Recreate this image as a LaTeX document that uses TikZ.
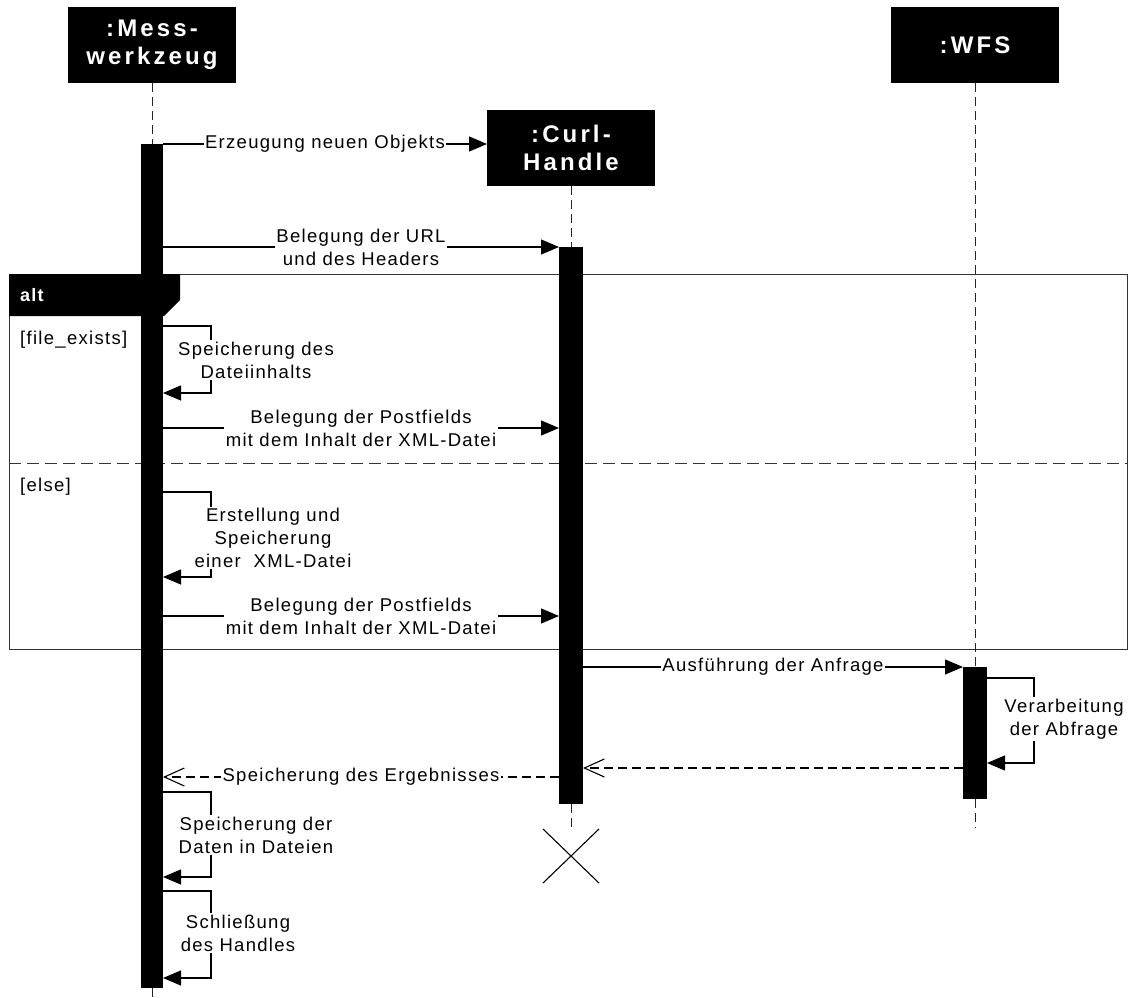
\documentclass[tikz,border=0pt]{standalone}
\usepackage{fontspec}
\setmainfont{Liberation Sans}
\newfontfamily\msgfont[LetterSpace=7]{Liberation Sans}
\newfontfamily\headfont[LetterSpace=13]{Liberation Sans}
\usetikzlibrary{arrows.meta,shapes.misc}

\begin{document}
\begin{tikzpicture}[x=1pt,y=-1pt,
  lifebox/.style={fill=black, text=white, minimum width=168pt, minimum height=76pt,
    inner sep=0pt, outer sep=0pt, align=center,
    font=\headfont\bfseries\fontsize{24}{28}\selectfont},
  actbar/.style={fill=black, anchor=north, inner sep=0pt, outer sep=0pt, minimum width=23pt},
  lifeline/.style={line width=1pt, dash pattern=on 9pt off 5pt, black!85},
  msg/.style={line width=1.1pt, -{Triangle[length=18pt,width=15pt]}},
  reply/.style={line width=1.1pt, dash pattern=on 9pt off 5pt,
    -{Straight Barb[length=20pt,width=18pt]}},
  lbl/.style={fill=white, inner sep=1.5pt, align=center,
    font=\msgfont\fontsize{18.5}{23}\selectfont},
  guard/.style={inner sep=0pt, anchor=base west, font=\msgfont\fontsize{18.5}{23}\selectfont},
]
\useasboundingbox (0,0) rectangle (1128,998);

% combined fragment frame
\node[draw=black!80, line width=1pt, anchor=north west, minimum width=1118pt,
  minimum height=375pt, inner sep=0pt, outer sep=0pt] (alt) at (9,274) {};
\coordinate (sep) at (0,463);
\draw[black!80, line width=1pt, dash pattern=on 12pt off 6pt] (alt.west |- sep) -- (alt.east |- sep);

% lifeline heads
\node[lifebox] (M) at (152,45) {:Mess-\\werkzeug};
\node[lifebox] (C) at (571,148) {:Curl-\\Handle};
\node[lifebox] (W) at (975,45) {:WFS};

% activation bars and destruction mark
\node[actbar, minimum width=22pt, minimum height=844pt] (Mbar) at (152,144) {};
\node[actbar, minimum width=24pt, minimum height=557pt] (Cbar) at (571,247) {};
\node[actbar, minimum width=24pt, minimum height=132pt] (Wbar) at (975,667) {};
\node[cross out, draw, line width=1.1pt, minimum width=56pt, minimum height=54pt,
  inner sep=0pt, outer sep=0pt] (X) at (571,856) {};

% lifelines
\coordinate (Mend) at (152,998);
\coordinate (Wend) at (975,828);
\draw[lifeline] (M.south) -- (Mbar.north);
\draw[lifeline] (Mbar.south) -- (Mend);
\draw[lifeline] (C.south) -- (Cbar.north);
\draw[lifeline] (Cbar.south) -- (X.north);
\draw[lifeline] (W.south) -- (Wbar.north);
\draw[lifeline] (Wbar.south) -- (Wend);

% message levels
\coordinate (yA) at (0,247);
\coordinate (yB) at (0,428);
\coordinate (yC) at (0,616);
\coordinate (yD) at (0,667);
\coordinate (yE) at (0,768);
\coordinate (yF) at (0,777);
\coordinate (s1t) at (0,326); \coordinate (s1b) at (0,393);
\coordinate (s2t) at (0,492); \coordinate (s2b) at (0,577);
\coordinate (s3t) at (0,678); \coordinate (s3b) at (0,763);
\coordinate (s4t) at (0,792); \coordinate (s4b) at (0,877);
\coordinate (s5t) at (0,891); \coordinate (s5b) at (0,978);

% messages
\draw[msg] (Mbar.north east) -- node[lbl]{Erzeugung neuen Objekts} (C.west |- Mbar.north east);
\draw[msg] (Mbar.east |- yA) -- node[lbl]{Belegung der URL\\und des Headers} (Cbar.west |- yA);

\draw[msg] (Mbar.east |- s1t) -- ++(48,0) |- (Mbar.east |- s1b);
\node[lbl] (l1) at (256,360) {Speicherung des\\Dateiinhalts};
\draw[msg] (Mbar.east |- yB) -- node[lbl]{Belegung der Postfields\\mit dem Inhalt der XML-Datei} (Cbar.west |- yB);

\draw[msg] (Mbar.east |- s2t) -- ++(48,0) |- (Mbar.east |- s2b);
\node[lbl] (l2) at (273,538) {Erstellung und\\Speicherung\\einer\ \ XML-Datei};
\draw[msg] (Mbar.east |- yC) -- node[lbl]{Belegung der Postfields\\mit dem Inhalt der XML-Datei} (Cbar.west |- yC);

\draw[msg] (Cbar.east |- yD) -- node[lbl]{Ausführung der Anfrage} (Wbar.north west);
\draw[msg] (Wbar.east |- s3t) -- ++(47,0) |- (Wbar.east |- s3b);
\node[lbl] (l3) at (1064,719) {Verarbeitung\\der Abfrage};

\draw[reply] (Wbar.west |- yE) -- (Cbar.east |- yE);
\draw[reply] (Cbar.west |- yF) -- node[lbl]{Speicherung des Ergebnisses} (Mbar.east |- yF);

\draw[msg] (Mbar.east |- s4t) -- ++(48,0) |- (Mbar.east |- s4b);
\node[lbl] (l4) at (256,835) {Speicherung der\\Daten in Dateien};
\draw[msg] (Mbar.east |- s5t) -- ++(48,0) |- (Mbar.east |- s5b);
\node[lbl] (l5) at (238,933) {Schließung\\des Handles};

% fragment tab and guards
\fill (alt.north west) -- ++(171,0) -- ++(0,26) -- ++(-16,16) -- ++(-155,0) -- cycle;
\node[text=white, anchor=base west, inner sep=0pt,
  font=\msgfont\bfseries\fontsize{18}{23}\selectfont] (altlbl) at (20,301) {alt};
\node[guard] (g1) at (20,344) {[file\_exists]};
\node[guard] (g2) at (20,491) {[else]};
\end{tikzpicture}
\end{document}
